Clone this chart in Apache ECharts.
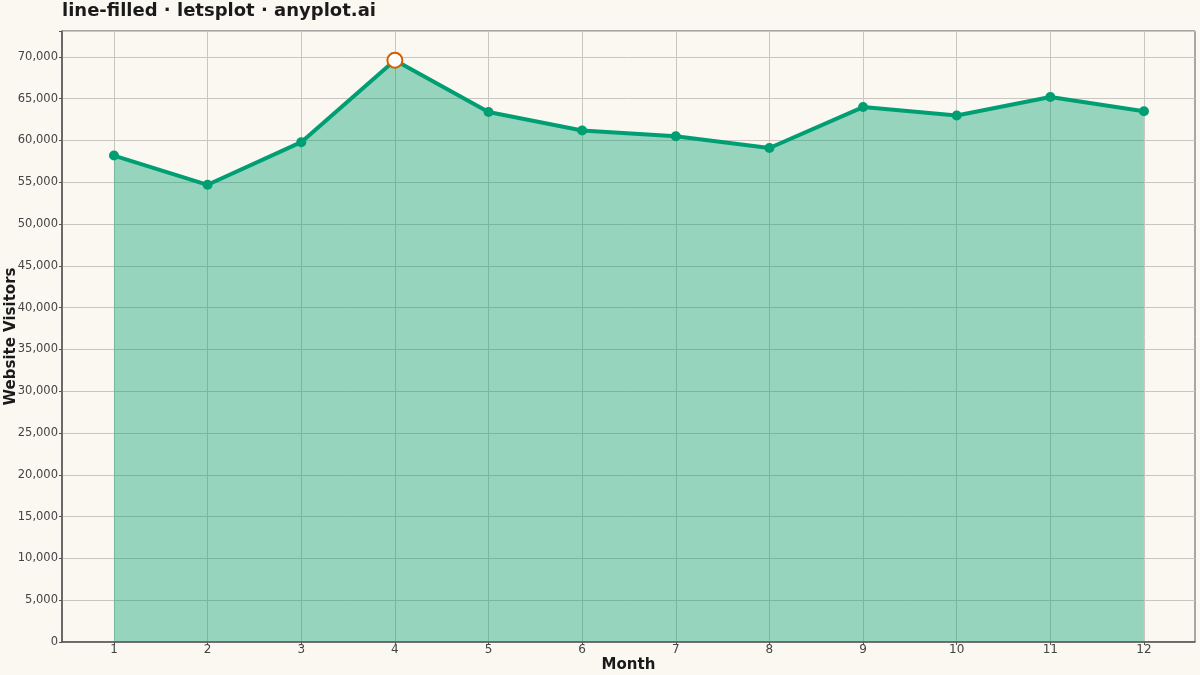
<!DOCTYPE html>
<html>
<head>
<meta charset="utf-8">
<script src="https://cdn.jsdelivr.net/npm/echarts@6/dist/echarts.min.js"></script>
<style>
  html, body { margin: 0; padding: 0; background: #faf8f1; }
  #chart { width: 1200px; height: 675px; }
</style>
</head>
<body>
<div id="chart"></div>
<script>
const months = [1, 2, 3, 4, 5, 6, 7, 8, 9, 10, 11, 12];
const visitors = [58200, 54700, 59800, 69600, 63400, 61200, 60500, 59100, 64000, 63000, 65200, 63500];
const peakMonth = 4;
const yTicks = [0, 5000, 10000, 15000, 20000, 25000, 30000, 35000, 40000, 45000, 50000, 55000, 60000, 65000, 70000];

const font = "DejaVu Sans";
const chart = echarts.init(document.getElementById("chart"));

const lineData = months.map((m, i) => [m, visitors[i]]);
const peakIdx = months.indexOf(peakMonth);

chart.setOption({
  backgroundColor: "#faf8f1",
  animation: false,
  title: {
    text: "line-filled · letsplot · anyplot.ai",
    left: 57,
    top: -3,
    textStyle: { fontFamily: font, fontSize: 18, fontWeight: "bold", color: "#1a1a1a" }
  },
  grid: {
    left: 62, right: 5, top: 31, bottom: 33,
    outerBoundsMode: "none",
    containLabel: false,
    show: true, borderColor: "#555", borderWidth: 1, backgroundColor: "transparent"
  },
  xAxis: {
    type: "value",
    min: 0.445,
    max: 12.545,
    name: "Month",
    nameLocation: "middle",
    nameGap: 16,
    nameMoveOverlap: false,
    nameTextStyle: { fontFamily: font, fontSize: 15, fontWeight: "bold", color: "#1a1a1a", verticalAlign: "top" },
    axisLine: { show: true, lineStyle: { color: "#555", width: 1.5 } },
    axisTick: { show: true, customValues: months, length: 3, lineStyle: { color: "#555" } },
    axisLabel: { customValues: months, fontFamily: font, fontSize: 12, color: "#444", margin: 2 },
    splitLine: { show: true, lineStyle: { color: "#c9c6bf", width: 1 } }
  },
  yAxis: {
    type: "value",
    min: 0,
    max: 73100,
    interval: 5000,
    name: "Website Visitors",
    nameLocation: "middle",
    nameGap: 43,
    nameMoveOverlap: false,
    nameTextStyle: { fontFamily: font, fontSize: 15, fontWeight: "bold", color: "#1a1a1a" },
    axisLine: { show: true, lineStyle: { color: "#555", width: 1.5 } },
    axisTick: { show: true, length: 3, lineStyle: { color: "#555" } },
    axisLabel: {
      fontFamily: font, fontSize: 11.5, color: "#444", margin: 4,
      formatter: v => yTicks.includes(v) ? v.toLocaleString("en-US") : ""
    },
    splitLine: { show: true, lineStyle: { color: "#c9c6bf", width: 1 } }
  },
  series: [
    {
      type: "line",
      data: lineData,
      symbol: "circle",
      symbolSize: 10,
      lineStyle: { color: "#009e73", width: 4 },
      itemStyle: { color: "#009e73" },
      areaStyle: { color: "#009e73", opacity: 0.4 },
      z: 2
    },
    {
      type: "scatter",
      data: [lineData[peakIdx]],
      symbol: "circle",
      symbolSize: 15,
      itemStyle: { color: "#ffffff", borderColor: "#d55e00", borderWidth: 2, opacity: 1 },
      z: 5
    }
  ]
});
</script>
</body>
</html>
